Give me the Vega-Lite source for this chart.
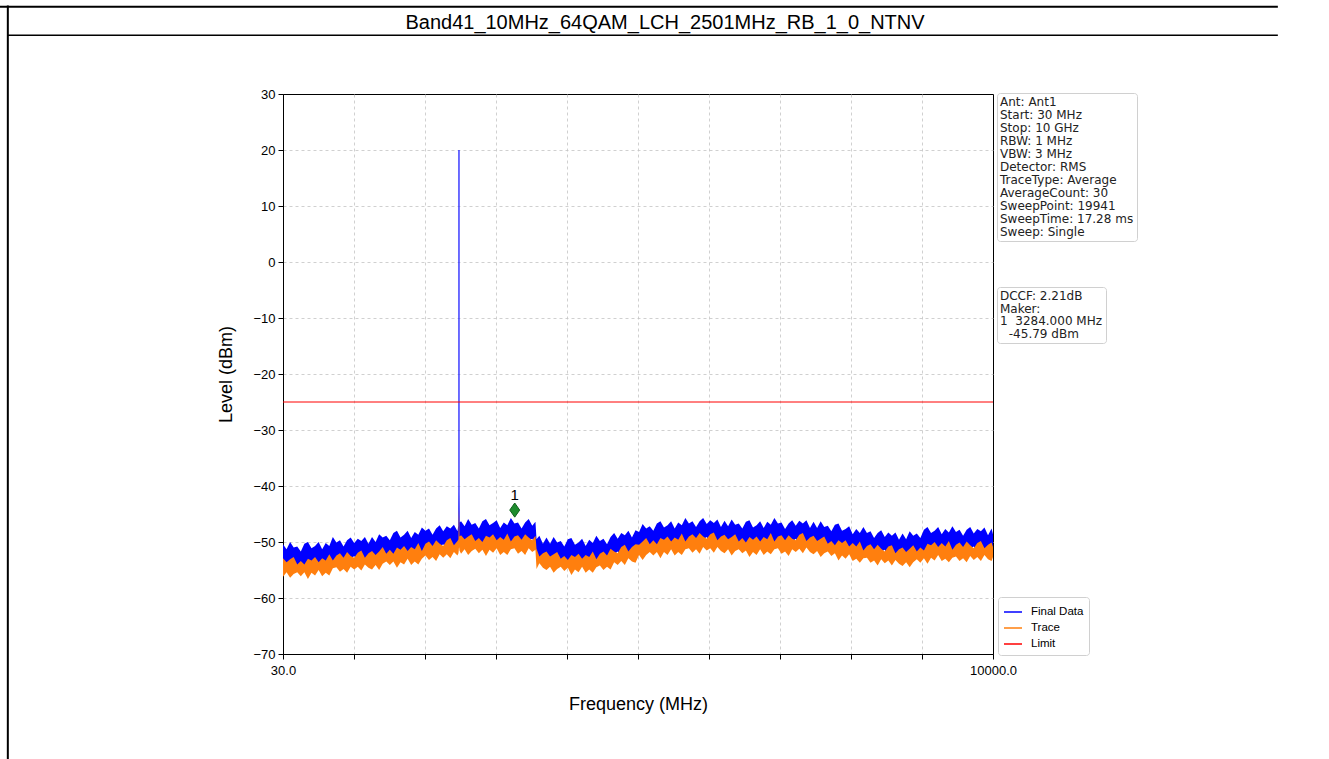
{
"$schema": "https://vega.github.io/schema/vega-lite/v6.json",
"width": 710, "height": 560,
"autosize": {"type": "none"},
"padding": {"left": 283, "top": 94, "right": 336, "bottom": 105},
"background": "white",
"title": {"text": "Band41_10MHz_64QAM_LCH_2501MHz_RB_1_0_NTNV", "anchor": "middle", "dx": 27, "offset": -44, "baseline": "alphabetic", "fontSize": 20, "font": "Liberation Sans", "fontWeight": "normal", "color": "black"},
"config": {
  "view": {"stroke": "black", "strokeWidth": 1},
  "axis": {"labelFont": "Liberation Sans", "titleFont": "Liberation Sans", "labelColor": "black", "titleColor": "black", "tickColor": "black", "domainColor": "black", "titleFontWeight": "normal", "gridColor": "#c4c4c4", "gridDash": [3, 3], "gridWidth": 0.8, "tickSize": 5, "labelFontSize": 13, "titleFontSize": 18}
},
"datasets": {
"spec": [
{"f":30,"bh":-50.4,"bl":-54.5,"th":-52.9,"tl":-56.2},
{"f":80,"bh":-51.3,"bl":-53.7,"th":-53.6,"tl":-55.4},
{"f":130,"bh":-50.0,"bl":-54.7,"th":-53.1,"tl":-56.4},
{"f":180,"bh":-51.0,"bl":-54.0,"th":-52.7,"tl":-55.7},
{"f":230,"bh":-50.8,"bl":-54.4,"th":-54.0,"tl":-55.4},
{"f":280,"bh":-51.7,"bl":-53.8,"th":-53.4,"tl":-56.1},
{"f":330,"bh":-50.3,"bl":-54.6,"th":-54.0,"tl":-55.4},
{"f":380,"bh":-50.0,"bl":-54.1,"th":-53.0,"tl":-56.6},
{"f":430,"bh":-51.1,"bl":-53.5,"th":-53.3,"tl":-55.5},
{"f":480,"bh":-50.7,"bl":-54.6,"th":-52.7,"tl":-56.0},
{"f":530,"bh":-50.0,"bl":-54.0,"th":-53.6,"tl":-55.0},
{"f":580,"bh":-51.3,"bl":-53.7,"th":-52.9,"tl":-56.1},
{"f":630,"bh":-50.2,"bl":-54.6,"th":-53.3,"tl":-55.5},
{"f":680,"bh":-50.7,"bl":-53.4,"th":-52.2,"tl":-56.0},
{"f":730,"bh":-49.1,"bl":-53.6,"th":-53.3,"tl":-54.7},
{"f":780,"bh":-50.1,"bl":-53.3,"th":-52.4,"tl":-54.5},
{"f":830,"bh":-49.7,"bl":-53.9,"th":-52.0,"tl":-55.3},
{"f":880,"bh":-50.8,"bl":-52.8,"th":-52.8,"tl":-54.8},
{"f":930,"bh":-49.7,"bl":-53.5,"th":-51.8,"tl":-55.5},
{"f":980,"bh":-49.2,"bl":-53.0,"th":-52.5,"tl":-54.4},
{"f":1030,"bh":-50.2,"bl":-52.5,"th":-52.8,"tl":-54.9},
{"f":1080,"bh":-49.4,"bl":-53.5,"th":-51.9,"tl":-54.4},
{"f":1130,"bh":-49.8,"bl":-53.0,"th":-51.5,"tl":-55.1},
{"f":1180,"bh":-49.1,"bl":-53.5,"th":-52.8,"tl":-54.0},
{"f":1230,"bh":-50.3,"bl":-52.6,"th":-52.0,"tl":-54.6},
{"f":1280,"bh":-49.1,"bl":-53.2,"th":-51.6,"tl":-54.9},
{"f":1330,"bh":-50.0,"bl":-52.4,"th":-52.3,"tl":-54.1},
{"f":1380,"bh":-48.6,"bl":-53.3,"th":-51.7,"tl":-55.0},
{"f":1430,"bh":-49.2,"bl":-52.2,"th":-50.9,"tl":-53.9},
{"f":1480,"bh":-48.9,"bl":-52.5,"th":-52.1,"tl":-53.5},
{"f":1530,"bh":-49.7,"bl":-51.8,"th":-51.4,"tl":-54.1},
{"f":1580,"bh":-48.4,"bl":-52.7,"th":-52.1,"tl":-53.5},
{"f":1630,"bh":-48.0,"bl":-52.1,"th":-51.0,"tl":-54.6},
{"f":1680,"bh":-49.2,"bl":-51.6,"th":-51.4,"tl":-53.6},
{"f":1730,"bh":-48.7,"bl":-52.6,"th":-50.7,"tl":-54.0},
{"f":1780,"bh":-48.0,"bl":-52.0,"th":-51.6,"tl":-53.0},
{"f":1830,"bh":-49.3,"bl":-51.7,"th":-50.9,"tl":-54.1},
{"f":1880,"bh":-48.2,"bl":-52.6,"th":-51.3,"tl":-53.5},
{"f":1930,"bh":-48.7,"bl":-51.4,"th":-50.2,"tl":-54.0},
{"f":1980,"bh":-47.4,"bl":-51.9,"th":-51.6,"tl":-53.0},
{"f":2030,"bh":-48.0,"bl":-51.2,"th":-50.3,"tl":-52.4},
{"f":2080,"bh":-47.6,"bl":-51.8,"th":-49.9,"tl":-53.2},
{"f":2130,"bh":-48.7,"bl":-50.7,"th":-50.7,"tl":-52.7},
{"f":2180,"bh":-47.6,"bl":-51.4,"th":-49.7,"tl":-53.4},
{"f":2230,"bh":-47.0,"bl":-50.8,"th":-50.3,"tl":-52.2},
{"f":2280,"bh":-48.1,"bl":-50.4,"th":-50.7,"tl":-52.8},
{"f":2330,"bh":-47.2,"bl":-51.3,"th":-49.7,"tl":-52.2},
{"f":2380,"bh":-47.6,"bl":-50.8,"th":-49.3,"tl":-52.9},
{"f":2430,"bh":-46.9,"bl":-51.3,"th":-50.6,"tl":-51.8},
{"f":2480,"bh":-48.1,"bl":-50.4,"th":-49.8,"tl":-52.4},
{"f":2494,"bh":-46.8,"bl":-50.2,"th":-49.5,"tl":-52.0},
{"f":2498,"bh":-43.0,"bl":-50.0,"th":-46.0,"tl":-51.5},
{"f":2501,"bh":-41.0,"bl":-50.0,"th":-44.0,"tl":-51.0},
{"f":2504,"bh":-43.0,"bl":-50.0,"th":-46.0,"tl":-51.0},
{"f":2508,"bh":-46.5,"bl":-49.8,"th":-49.0,"tl":-51.5},
{"f":2530,"bh":-46.3,"bl":-50.4,"th":-48.8,"tl":-52.1},
{"f":2580,"bh":-47.2,"bl":-49.6,"th":-49.5,"tl":-51.3},
{"f":2630,"bh":-45.9,"bl":-50.6,"th":-49.0,"tl":-52.3},
{"f":2680,"bh":-46.9,"bl":-49.9,"th":-48.6,"tl":-51.6},
{"f":2730,"bh":-46.6,"bl":-50.2,"th":-49.8,"tl":-51.2},
{"f":2780,"bh":-47.6,"bl":-49.7,"th":-49.3,"tl":-52.0},
{"f":2830,"bh":-46.3,"bl":-50.6,"th":-50.0,"tl":-51.4},
{"f":2880,"bh":-45.9,"bl":-50.0,"th":-48.9,"tl":-52.5},
{"f":2930,"bh":-47.0,"bl":-49.4,"th":-49.2,"tl":-51.4},
{"f":2980,"bh":-46.6,"bl":-50.5,"th":-48.6,"tl":-51.9},
{"f":3030,"bh":-46.1,"bl":-50.1,"th":-49.7,"tl":-51.1},
{"f":3080,"bh":-47.5,"bl":-49.9,"th":-49.1,"tl":-52.3},
{"f":3130,"bh":-46.5,"bl":-50.9,"th":-49.6,"tl":-51.8},
{"f":3180,"bh":-47.0,"bl":-49.7,"th":-48.5,"tl":-52.3},
{"f":3230,"bh":-45.7,"bl":-50.2,"th":-49.9,"tl":-51.3},
{"f":3280,"bh":-46.7,"bl":-49.9,"th":-49.0,"tl":-51.1},
{"f":3330,"bh":-46.5,"bl":-50.7,"th":-48.8,"tl":-52.1},
{"f":3380,"bh":-47.6,"bl":-49.6,"th":-49.6,"tl":-51.6},
{"f":3430,"bh":-46.5,"bl":-50.3,"th":-48.6,"tl":-52.3},
{"f":3480,"bh":-45.9,"bl":-49.7,"th":-49.2,"tl":-51.1},
{"f":3530,"bh":-47.1,"bl":-49.4,"th":-49.7,"tl":-51.8},
{"f":3575,"bh":-46.4,"bl":-50.5,"th":-48.9,"tl":-51.4},
{"f":3590,"bh":-49.5,"bl":-52.7,"th":-51.2,"tl":-54.8},
{"f":3630,"bh":-48.9,"bl":-53.3,"th":-52.6,"tl":-53.8},
{"f":3680,"bh":-50.3,"bl":-52.6,"th":-52.0,"tl":-54.6},
{"f":3730,"bh":-49.2,"bl":-53.3,"th":-51.7,"tl":-55.0},
{"f":3780,"bh":-50.3,"bl":-52.7,"th":-52.6,"tl":-54.4},
{"f":3830,"bh":-49.1,"bl":-53.8,"th":-52.2,"tl":-55.5},
{"f":3880,"bh":-50.1,"bl":-53.1,"th":-51.8,"tl":-54.8},
{"f":3930,"bh":-49.8,"bl":-53.4,"th":-53.0,"tl":-54.4},
{"f":3980,"bh":-50.8,"bl":-52.9,"th":-52.5,"tl":-55.2},
{"f":4030,"bh":-49.5,"bl":-53.8,"th":-53.2,"tl":-54.6},
{"f":4080,"bh":-49.3,"bl":-53.4,"th":-52.3,"tl":-55.9},
{"f":4130,"bh":-50.5,"bl":-52.9,"th":-52.7,"tl":-54.9},
{"f":4180,"bh":-50.1,"bl":-54.0,"th":-52.1,"tl":-55.4},
{"f":4230,"bh":-49.4,"bl":-53.4,"th":-53.0,"tl":-54.4},
{"f":4280,"bh":-50.7,"bl":-53.1,"th":-52.3,"tl":-55.5},
{"f":4330,"bh":-49.6,"bl":-54.0,"th":-52.7,"tl":-54.9},
{"f":4380,"bh":-50.2,"bl":-52.9,"th":-51.7,"tl":-55.5},
{"f":4430,"bh":-48.9,"bl":-53.4,"th":-53.1,"tl":-54.5},
{"f":4480,"bh":-49.8,"bl":-53.0,"th":-52.1,"tl":-54.2},
{"f":4530,"bh":-49.4,"bl":-53.6,"th":-51.7,"tl":-55.0},
{"f":4580,"bh":-50.4,"bl":-52.4,"th":-52.4,"tl":-54.4},
{"f":4630,"bh":-49.1,"bl":-52.9,"th":-51.2,"tl":-54.9},
{"f":4680,"bh":-48.4,"bl":-52.2,"th":-51.7,"tl":-53.6},
{"f":4730,"bh":-49.4,"bl":-51.7,"th":-52.0,"tl":-54.1},
{"f":4780,"bh":-48.4,"bl":-52.5,"th":-50.9,"tl":-53.4},
{"f":4830,"bh":-48.8,"bl":-52.0,"th":-50.5,"tl":-54.1},
{"f":4880,"bh":-48.0,"bl":-52.4,"th":-51.7,"tl":-52.9},
{"f":4930,"bh":-49.2,"bl":-51.5,"th":-50.9,"tl":-53.5},
{"f":4980,"bh":-47.9,"bl":-52.0,"th":-50.4,"tl":-53.7},
{"f":5030,"bh":-48.2,"bl":-50.6,"th":-50.5,"tl":-52.3},
{"f":5080,"bh":-46.8,"bl":-51.5,"th":-49.9,"tl":-53.2},
{"f":5130,"bh":-47.6,"bl":-50.6,"th":-49.3,"tl":-52.3},
{"f":5180,"bh":-47.2,"bl":-50.8,"th":-50.4,"tl":-51.8},
{"f":5230,"bh":-48.0,"bl":-50.1,"th":-49.7,"tl":-52.4},
{"f":5280,"bh":-46.7,"bl":-51.0,"th":-50.4,"tl":-51.8},
{"f":5330,"bh":-46.3,"bl":-50.4,"th":-49.3,"tl":-52.9},
{"f":5380,"bh":-47.4,"bl":-49.8,"th":-49.6,"tl":-51.8},
{"f":5430,"bh":-47.0,"bl":-50.9,"th":-49.0,"tl":-52.3},
{"f":5480,"bh":-46.3,"bl":-50.3,"th":-49.9,"tl":-51.3},
{"f":5530,"bh":-47.6,"bl":-50.0,"th":-49.2,"tl":-52.4},
{"f":5580,"bh":-46.5,"bl":-50.9,"th":-49.6,"tl":-51.8},
{"f":5630,"bh":-47.0,"bl":-49.7,"th":-48.5,"tl":-52.3},
{"f":5680,"bh":-45.7,"bl":-50.2,"th":-49.9,"tl":-51.3},
{"f":5730,"bh":-46.7,"bl":-49.9,"th":-49.0,"tl":-51.1},
{"f":5780,"bh":-46.3,"bl":-50.5,"th":-48.6,"tl":-51.9},
{"f":5830,"bh":-47.3,"bl":-49.3,"th":-49.3,"tl":-51.3},
{"f":5880,"bh":-46.3,"bl":-50.1,"th":-48.4,"tl":-52.1},
{"f":5930,"bh":-45.7,"bl":-49.5,"th":-49.0,"tl":-50.9},
{"f":5980,"bh":-46.8,"bl":-49.1,"th":-49.4,"tl":-51.5},
{"f":6030,"bh":-46.1,"bl":-50.2,"th":-48.6,"tl":-51.1},
{"f":6080,"bh":-46.6,"bl":-49.8,"th":-48.3,"tl":-51.9},
{"f":6130,"bh":-46.0,"bl":-50.4,"th":-49.7,"tl":-50.9},
{"f":6180,"bh":-47.3,"bl":-49.6,"th":-49.0,"tl":-51.6},
{"f":6230,"bh":-46.2,"bl":-50.3,"th":-48.7,"tl":-52.0},
{"f":6280,"bh":-47.2,"bl":-49.6,"th":-49.5,"tl":-51.3},
{"f":6330,"bh":-46.0,"bl":-50.7,"th":-49.1,"tl":-52.4},
{"f":6380,"bh":-46.9,"bl":-49.9,"th":-48.6,"tl":-51.6},
{"f":6430,"bh":-46.7,"bl":-50.3,"th":-49.9,"tl":-51.3},
{"f":6480,"bh":-47.6,"bl":-49.7,"th":-49.3,"tl":-52.0},
{"f":6530,"bh":-46.4,"bl":-50.7,"th":-50.1,"tl":-51.5},
{"f":6580,"bh":-46.1,"bl":-50.2,"th":-49.1,"tl":-52.7},
{"f":6630,"bh":-47.4,"bl":-49.8,"th":-49.6,"tl":-51.8},
{"f":6680,"bh":-47.0,"bl":-50.9,"th":-49.0,"tl":-52.3},
{"f":6730,"bh":-46.3,"bl":-50.3,"th":-49.9,"tl":-51.3},
{"f":6780,"bh":-47.5,"bl":-49.9,"th":-49.1,"tl":-52.3},
{"f":6830,"bh":-46.4,"bl":-50.8,"th":-49.5,"tl":-51.7},
{"f":6880,"bh":-46.9,"bl":-49.6,"th":-48.4,"tl":-52.2},
{"f":6930,"bh":-45.7,"bl":-50.2,"th":-49.9,"tl":-51.3},
{"f":6980,"bh":-46.7,"bl":-49.9,"th":-49.0,"tl":-51.1},
{"f":7030,"bh":-46.5,"bl":-50.7,"th":-48.8,"tl":-52.1},
{"f":7080,"bh":-47.7,"bl":-49.7,"th":-49.7,"tl":-51.7},
{"f":7130,"bh":-46.7,"bl":-50.5,"th":-48.8,"tl":-52.5},
{"f":7180,"bh":-46.1,"bl":-49.9,"th":-49.4,"tl":-51.3},
{"f":7230,"bh":-47.1,"bl":-49.4,"th":-49.7,"tl":-51.8},
{"f":7280,"bh":-46.2,"bl":-50.3,"th":-48.7,"tl":-51.2},
{"f":7330,"bh":-46.7,"bl":-49.9,"th":-48.4,"tl":-52.0},
{"f":7380,"bh":-46.1,"bl":-50.5,"th":-49.8,"tl":-51.0},
{"f":7430,"bh":-47.5,"bl":-49.8,"th":-49.2,"tl":-51.8},
{"f":7480,"bh":-46.4,"bl":-50.5,"th":-48.9,"tl":-52.2},
{"f":7530,"bh":-47.5,"bl":-49.9,"th":-49.8,"tl":-51.6},
{"f":7580,"bh":-46.3,"bl":-51.0,"th":-49.4,"tl":-52.7},
{"f":7630,"bh":-47.3,"bl":-50.3,"th":-49.0,"tl":-52.0},
{"f":7680,"bh":-47.1,"bl":-50.7,"th":-50.3,"tl":-51.7},
{"f":7730,"bh":-48.1,"bl":-50.2,"th":-49.8,"tl":-52.5},
{"f":7780,"bh":-46.9,"bl":-51.2,"th":-50.6,"tl":-52.0},
{"f":7830,"bh":-46.7,"bl":-50.8,"th":-49.7,"tl":-53.3},
{"f":7880,"bh":-48.0,"bl":-50.4,"th":-50.2,"tl":-52.4},
{"f":7930,"bh":-47.7,"bl":-51.6,"th":-49.7,"tl":-53.0},
{"f":7980,"bh":-47.2,"bl":-51.2,"th":-50.8,"tl":-52.2},
{"f":8030,"bh":-48.6,"bl":-51.0,"th":-50.2,"tl":-53.4},
{"f":8080,"bh":-47.7,"bl":-52.1,"th":-50.8,"tl":-53.0},
{"f":8130,"bh":-48.4,"bl":-51.1,"th":-49.9,"tl":-53.7},
{"f":8180,"bh":-47.3,"bl":-51.8,"th":-51.5,"tl":-52.9},
{"f":8230,"bh":-48.4,"bl":-51.6,"th":-50.7,"tl":-52.8},
{"f":8280,"bh":-48.1,"bl":-52.3,"th":-50.4,"tl":-53.7},
{"f":8330,"bh":-49.3,"bl":-51.3,"th":-51.3,"tl":-53.3},
{"f":8380,"bh":-48.4,"bl":-52.2,"th":-50.5,"tl":-54.2},
{"f":8430,"bh":-47.9,"bl":-51.7,"th":-51.2,"tl":-53.1},
{"f":8480,"bh":-49.1,"bl":-51.4,"th":-51.7,"tl":-53.8},
{"f":8530,"bh":-48.3,"bl":-52.4,"th":-50.8,"tl":-53.3},
{"f":8580,"bh":-48.9,"bl":-52.1,"th":-50.6,"tl":-54.2},
{"f":8630,"bh":-48.3,"bl":-52.7,"th":-52.0,"tl":-53.2},
{"f":8680,"bh":-49.6,"bl":-51.9,"th":-51.3,"tl":-53.9},
{"f":8730,"bh":-48.5,"bl":-52.6,"th":-51.0,"tl":-54.3},
{"f":8780,"bh":-49.5,"bl":-51.9,"th":-51.8,"tl":-53.6},
{"f":8830,"bh":-48.1,"bl":-52.8,"th":-51.2,"tl":-54.5},
{"f":8880,"bh":-48.9,"bl":-51.9,"th":-50.6,"tl":-53.6},
{"f":8930,"bh":-48.5,"bl":-52.1,"th":-51.7,"tl":-53.1},
{"f":8980,"bh":-49.3,"bl":-51.4,"th":-51.0,"tl":-53.7},
{"f":9030,"bh":-47.8,"bl":-52.1,"th":-51.5,"tl":-52.9},
{"f":9080,"bh":-47.3,"bl":-51.4,"th":-50.3,"tl":-53.9},
{"f":9130,"bh":-48.4,"bl":-50.8,"th":-50.6,"tl":-52.8},
{"f":9180,"bh":-48.0,"bl":-51.9,"th":-50.0,"tl":-53.3},
{"f":9230,"bh":-47.3,"bl":-51.3,"th":-50.9,"tl":-52.3},
{"f":9280,"bh":-48.6,"bl":-51.0,"th":-50.2,"tl":-53.4},
{"f":9330,"bh":-47.7,"bl":-52.1,"th":-50.8,"tl":-53.0},
{"f":9380,"bh":-48.3,"bl":-51.0,"th":-49.8,"tl":-53.6},
{"f":9430,"bh":-47.2,"bl":-51.7,"th":-51.4,"tl":-52.8},
{"f":9480,"bh":-48.2,"bl":-51.4,"th":-50.5,"tl":-52.6},
{"f":9530,"bh":-47.8,"bl":-52.0,"th":-50.1,"tl":-53.4},
{"f":9580,"bh":-48.9,"bl":-50.9,"th":-50.9,"tl":-52.9},
{"f":9630,"bh":-47.8,"bl":-51.6,"th":-49.9,"tl":-53.6},
{"f":9680,"bh":-47.3,"bl":-51.1,"th":-50.6,"tl":-52.5},
{"f":9730,"bh":-48.5,"bl":-50.8,"th":-51.1,"tl":-53.2},
{"f":9780,"bh":-47.7,"bl":-51.8,"th":-50.2,"tl":-52.7},
{"f":9830,"bh":-48.1,"bl":-51.3,"th":-49.8,"tl":-53.4},
{"f":9880,"bh":-47.4,"bl":-51.8,"th":-51.1,"tl":-52.3},
{"f":9930,"bh":-48.8,"bl":-51.1,"th":-50.5,"tl":-53.1},
{"f":9980,"bh":-47.6,"bl":-51.7,"th":-50.1,"tl":-53.4},
{"f":10000,"bh":-48.6,"bl":-51.0,"th":-50.9,"tl":-52.7}
]
},
"resolve": {"scale": {"shape": "independent"}, "legend": {"shape": "independent"}},
"layer": [
{
  "data": {"name": "spec"},
  "mark": {"type": "area"},
  "encoding": {
    "x": {"field": "f", "type": "quantitative", "title": "Frequency (MHz)",
      "scale": {"domain": [30, 10000], "nice": false, "zero": false},
      "axis": {"values": [30, 1027, 2024, 3021, 4018, 5015, 6012, 7009, 8006, 9003, 10000], "labelExpr": "datum.value == 30 ? '30.0' : (datum.value == 10000 ? '10000.0' : '')", "labelOverlap": false, "labelFlush": false, "labelPadding": 5, "titlePadding": 18,
        "gridOpacity": {"condition": {"test": "datum.value == 30 || datum.value == 10000", "value": 0}, "value": 1}}},
    "y": {"field": "bh", "type": "quantitative", "title": "Level (dBm)",
      "scale": {"domain": [-70, 30], "nice": false, "zero": false},
      "axis": {"values": [-70, -60, -50, -40, -30, -20, -10, 0, 10, 20, 30], "labelPadding": 3, "titlePadding": 17,
        "gridOpacity": {"condition": {"test": "datum.value == 30 || datum.value == -70", "value": 0}, "value": 1}}},
    "y2": {"field": "bl"},
    "color": {"datum": "Final Data", "type": "nominal",
      "scale": {"domain": ["Final Data", "Trace", "Limit"], "range": ["#0000ff", "#ff7f0e", "#ff0000"]},
      "legend": {"title": null, "orient": "none", "legendX": 715, "legendY": 503, "direction": "vertical", "symbolType": "stroke", "symbolSize": 324, "symbolStrokeWidth": 1.5, "labelFont": "Liberation Sans", "labelFontSize": 11.5, "labelColor": "black", "labelOffset": 8, "padding": 5, "rowPadding": 0, "strokeColor": "#d0d0d0", "fillColor": "white", "cornerRadius": 3,
        "encode": {"symbols": {"update": {"stroke": {"scale": "color", "field": "value"}, "fill": {"value": "transparent"}, "strokeWidth": {"value": 1.5}, "opacity": {"value": 1}}}}}}
  }
},
{
  "data": {"values": [{"f": 2501, "lo": -47, "hi": 20}]},
  "mark": {"type": "rule", "color": "#2020ff", "strokeWidth": 1.3},
  "encoding": {"x": {"field": "f", "type": "quantitative"}, "y": {"field": "hi", "type": "quantitative"}, "y2": {"field": "lo"}}
},
{
  "data": {"name": "spec"},
  "mark": {"type": "area"},
  "encoding": {
    "x": {"field": "f", "type": "quantitative"},
    "y": {"field": "th", "type": "quantitative"},
    "y2": {"field": "tl"},
    "color": {"datum": "Trace", "type": "nominal"}
  }
},
{
  "data": {"values": [{}]},
  "mark": {"type": "rule", "strokeWidth": 1},
  "encoding": {"y": {"datum": -25, "type": "quantitative"}, "color": {"datum": "Limit", "type": "nominal"}}
},
{
  "data": {"values": [{"f": 3284, "lvl": -44.3, "id": "1"}]},
  "mark": {"type": "point", "shape": "M0,-1L0.7,0L0,1L-0.7,0Z", "filled": true, "size": 200, "color": "#1e8c2e", "stroke": "#0f5f1c", "strokeWidth": 1, "opacity": 1},
  "encoding": {"x": {"field": "f", "type": "quantitative"}, "y": {"field": "lvl", "type": "quantitative"}}
},
{
  "data": {"values": [{"f": 3284, "lvl": -44.3, "id": "1"}]},
  "mark": {"type": "text", "dy": -15, "fontSize": 15, "font": "Liberation Sans", "color": "black"},
  "encoding": {"x": {"field": "f", "type": "quantitative"}, "y": {"field": "lvl", "type": "quantitative"}, "text": {"field": "id"}}
},
{
  "data": {"values": [{}]},
  "mark": {"type": "rule", "color": "black", "strokeWidth": 2},
  "encoding": {"x": {"datum": -4000, "type": "quantitative"}, "x2": {"datum": 14000}, "y": {"datum": 45.6, "type": "quantitative"}}
},
{
  "data": {"values": [{}]},
  "mark": {"type": "rule", "color": "black", "strokeWidth": 1.5},
  "encoding": {"x": {"datum": -3834, "type": "quantitative"}, "x2": {"datum": 14000}, "y": {"datum": 40.5, "type": "quantitative"}}
},
{
  "data": {"values": [{}]},
  "mark": {"type": "rule", "color": "black", "strokeWidth": 2},
  "encoding": {"x": {"datum": -3834, "type": "quantitative"}, "y": {"datum": 45.8, "type": "quantitative"}, "y2": {"datum": -95}}
},
{
  "data": {"values": [{"t": "Ant: Ant1"}, {"t": "Start: 30 MHz"}, {"t": "Stop: 10 GHz"}, {"t": "RBW: 1 MHz"}, {"t": "VBW: 3 MHz"}, {"t": "Detector: RMS"}, {"t": "TraceType: Average"}, {"t": "AverageCount: 30"}, {"t": "SweepPoint: 19941"}, {"t": "SweepTime: 17.28 ms"}, {"t": "Sweep: Single"}]},
  "mark": {"type": "point", "opacity": 0},
  "encoding": {"shape": {"field": "t", "type": "nominal", "sort": null,
    "legend": {"title": null, "orient": "none", "legendX": 714, "legendY": -1, "direction": "vertical", "symbolSize": 0, "symbolOpacity": 0, "symbolStrokeWidth": 0, "labelOffset": -12, "labelFont": "DejaVu Sans", "labelFontSize": 12, "labelColor": "#222222", "labelLimit": 300, "rowPadding": 1, "padding": 3, "strokeColor": "#d0d0d0", "fillColor": "white", "cornerRadius": 3}}}
},
{
  "data": {"values": [{"t": "DCCF: 2.21dB"}, {"t": "Maker:"}, {"t": "1\u00a0\u00a03284.000 MHz"}, {"t": "\u2800-45.79 dBm"}]},
  "mark": {"type": "point", "opacity": 0},
  "encoding": {"shape": {"field": "t", "type": "nominal", "sort": null,
    "legend": {"title": null, "orient": "none", "legendX": 714, "legendY": 193, "direction": "vertical", "symbolSize": 0, "symbolOpacity": 0, "symbolStrokeWidth": 0, "labelOffset": -12, "labelFont": "DejaVu Sans", "labelFontSize": 12, "labelColor": "#222222", "labelLimit": 300, "rowPadding": 0.5, "padding": 3, "strokeColor": "#d0d0d0", "fillColor": "white", "cornerRadius": 3}}}
}
]
}
